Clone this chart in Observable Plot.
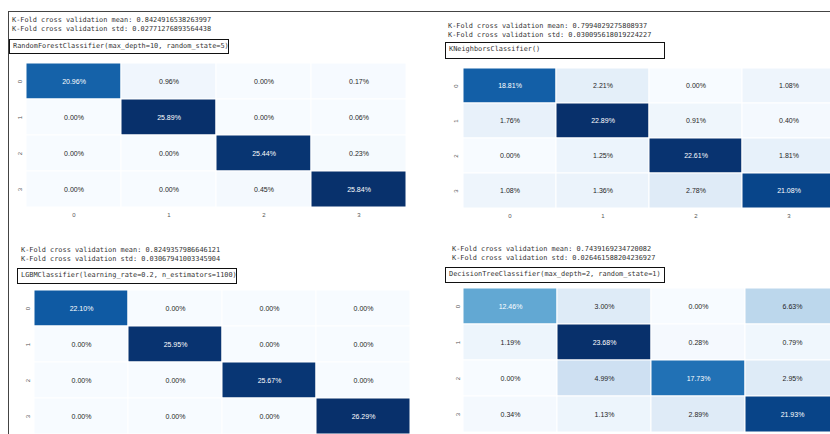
<!DOCTYPE html>
<html><head><meta charset="utf-8">
<script src="https://cdn.jsdelivr.net/npm/d3@7"></script>
<script src="https://cdn.jsdelivr.net/npm/@observablehq/plot@0.6"></script>
<style>
html,body{margin:0;padding:0;width:830px;height:434px;overflow:hidden;background:#fff;}
#root{position:relative;width:830px;height:434px;overflow:hidden;}
.abs{position:absolute;}
.mono{font-family:"DejaVu Sans Mono",monospace;font-size:6.9px;line-height:9px;color:#333;white-space:pre;}
.box{border:1.5px solid #111;box-sizing:border-box;padding-left:3px;line-height:13px;}
.line{background:#444;}
</style></head><body><div id="root"></div>
<script>
// ---- data ----
const classes = [0, 1, 2, 3];
const modelNames = [
  "RandomForestClassifier(max_depth=10, random_state=5)",
  "KNeighborsClassifier()",
  "LGBMClassifier(learning_rate=0.2, n_estimators=1100)",
  "DecisionTreeClassifier(max_depth=2, random_state=1)"
];
const cvMeans = ["0.8424916538263997", "0.7994029275808937", "0.8249357986646121", "0.7439169234720082"];
const cvStds = ["0.02771276893564438", "0.030095618019224227", "0.03067941003345904", "0.026461588204236927"];
const rfValues = [[20.96, 0.96, 0.00, 0.17], [0.00, 25.89, 0.00, 0.06], [0.00, 0.00, 25.44, 0.23], [0.00, 0.00, 0.45, 25.84]];
const knnValues = [[18.81, 2.21, 0.00, 1.08], [1.76, 22.89, 0.91, 0.40], [0.00, 1.25, 22.61, 1.81], [1.08, 1.36, 2.78, 21.08]];
const lgbmValues = [[22.10, 0.00, 0.00, 0.00], [0.00, 25.95, 0.00, 0.00], [0.00, 0.00, 25.67, 0.00], [0.00, 0.00, 0.00, 26.29]];
const dtValues = [[12.46, 3.00, 0.00, 6.63], [1.19, 23.68, 0.28, 0.79], [0.00, 4.99, 17.73, 2.95], [0.34, 1.13, 2.89, 21.93]];
const matrices = [rfValues, knnValues, lgbmValues, dtValues];

// ---- layout (positions only) ----
const layout = [
  {text: [12, 16], box: [9, 39, 220, 15], svg: [0, 55, 415, 169], m: [7, 9, 16, 25], xAxis: true},
  {text: [448, 22], box: [445, 42, 220, 17], svg: [415, 59, 421, 166], m: [7, 0, 16, 46], xAxis: true},
  {text: [21, 246], box: [17, 268, 220, 16], svg: [0, 282, 420, 152], m: [7, 9, 0, 33], xAxis: false},
  {text: [452, 245], box: [445, 267, 220, 16], svg: [415, 281, 424, 151], m: [7, 0, 0, 48], xAxis: false}
];

const bluesStops = ["#f7fbff", "#deebf7", "#c6dbef", "#9ecae1", "#6baed6", "#4292c6", "#2171b5", "#08519c", "#08306b"];
const interp = d3.piecewise(d3.interpolateRgb, bluesStops);
function lum(c) {
  const {r, g, b} = d3.rgb(c);
  const f = x => { x /= 255; return x <= 0.03928 ? x / 12.92 : Math.pow((x + 0.055) / 1.055, 2.4); };
  return 0.2126 * f(r) + 0.7152 * f(g) + 0.0722 * f(b);
}

const root = document.getElementById("root");
function addDiv(cls, x, y, w, h, txt) {
  const d = document.createElement("div");
  d.className = "abs " + cls;
  d.style.left = x + "px"; d.style.top = y + "px";
  if (w != null) d.style.width = w + "px";
  if (h != null) d.style.height = h + "px";
  if (txt != null) d.textContent = txt;
  root.appendChild(d);
  return d;
}

addDiv("line", 8, 11, 822, 1);
addDiv("line", 8, 11, 1, 423);

matrices.forEach((values, k) => {
  const L = layout[k];
  addDiv("mono", L.text[0], L.text[1], null, null,
    "K-Fold cross validation mean: " + cvMeans[k] + "\nK-Fold cross validation std: " + cvStds[k]);
  addDiv("mono box", L.box[0], L.box[1], L.box[2], L.box[3], modelNames[k]);

  const cells = [];
  values.forEach((row, i) => row.forEach((v, j) => cells.push({actual: classes[i], predicted: classes[j], value: v})));
  const max = d3.max(cells, d => d.value);
  const isDark = d => lum(interp(d.value / max)) <= 0.408;
  const label = d => d.value.toFixed(2) + "%";
  const [mt, mr, mb, ml] = L.m;
  const marks = [
    Plot.cell(cells, {x: "predicted", y: "actual", fill: "value", stroke: "#ffffff", strokeWidth: 1}),
    Plot.text(cells, {x: "predicted", y: "actual", text: label, filter: isDark, fill: "white", fontSize: 7}),
    Plot.text(cells, {x: "predicted", y: "actual", text: label, filter: d => !isDark(d), fill: "#262626", fontSize: 7}),
    Plot.axisY({anchor: "left", tickSize: 0, tickPadding: 4, fontSize: 6, color: "#555", label: null, tickRotate: -90})
  ];
  if (L.xAxis) marks.push(Plot.axisX({anchor: "bottom", tickSize: 0, tickPadding: 4, fontSize: 6, color: "#555", label: null}));
  const chart = Plot.plot({
    width: L.svg[2], height: L.svg[3],
    marginTop: mt, marginRight: mr, marginBottom: mb, marginLeft: ml,
    x: {type: "band", domain: classes, padding: 0, axis: null},
    y: {type: "band", domain: classes, padding: 0, axis: null},
    color: {type: "linear", domain: [0, max], interpolate: interp},
    style: {fontFamily: "'Liberation Sans', Arial, sans-serif", background: "transparent", overflow: "visible"},
    marks
  });
  chart.style.position = "absolute";
  chart.style.left = L.svg[0] + "px";
  chart.style.top = L.svg[1] + "px";
  root.appendChild(chart);
});
</script>
</body></html>
